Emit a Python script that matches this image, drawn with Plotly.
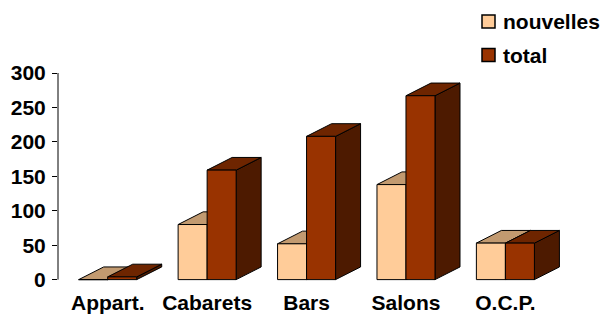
import plotly.graph_objects as go

categories = ["Appart.", "Cabarets", "Bars", "Salons", "O.C.P."]
nouvelles = [0, 80, 52, 138, 53]
total = [4, 159, 208, 267, 53]
y_ticks = [0, 50, 100, 150, 200, 250, 300]

W, H = 615, 314
L, R, T, B = 58, 40, 73, 33
XR = [-0.5, 4.7]
YR = [-2, 300]

BAR_W = 0.2918
DX = 0.2515
DY = 18.4

FONT = dict(family="Liberation Sans, Arial, sans-serif", size=21, color="black", weight="bold")

def faces(values, offset):
    front_x, front_y, top_x, top_y, side_x, side_y = [], [], [], [], [], []
    for i, v in enumerate(values):
        x0 = i + offset
        x1 = x0 + BAR_W
        front_x += [x0, x1, x1, x0, x0, None]
        front_y += [0, 0, v, v, 0, None]
        top_x += [x0, x1, x1 + DX, x0 + DX, x0, None]
        top_y += [v, v, v + DY, v + DY, v, None]
        side_x += [x1, x1 + DX, x1 + DX, x1, x1, None]
        side_y += [0, DY, v + DY, v, 0, None]
    return (front_x, front_y), (top_x, top_y), (side_x, side_y)

fig = go.Figure()

series = [
    (nouvelles, -BAR_W, "#FFCC99", "#C29A70", "#8A6A48"),
    (total, 0.0, "#993300", "#6E2500", "#4D1A00"),
]
for vals, off, c_front, c_top, c_side in series:
    (fx, fy), (tx, ty), (sx, sy) = faces(vals, off)
    for xs, ys, col in [(sx, sy, c_side), (tx, ty, c_top), (fx, fy, c_front)]:
        fig.add_trace(go.Scatter(
            x=xs, y=ys, mode="lines", fill="toself", fillcolor=col,
            line=dict(color="black", width=1), showlegend=False,
            hoverinfo="skip", connectgaps=False))

def px_to_paper(px, py):
    return (px - L) / (W - L - R), (H - B - py) / (H - B - T)

shapes = [dict(type="line", xref="paper", yref="y", x0=0, x1=0, y0=0, y1=300,
               line=dict(color="black", width=1))]
annotations = []
legend_items = [("nouvelles", "#FFCC99", 21.5), ("total", "#993300", 55)]
for name, col, cy in legend_items:
    xa, ya = px_to_paper(482, cy - 6.5)
    xb, yb = px_to_paper(495, cy + 6.5)
    shapes.append(dict(type="rect", xref="paper", yref="paper", x0=xa, x1=xb, y0=yb, y1=ya,
                       fillcolor=col, line=dict(color="black", width=1.5)))
    tx, ty = px_to_paper(501, cy)
    annotations.append(dict(text=name, xref="paper", yref="paper", x=tx, y=ty,
                            xanchor="left", yanchor="middle", showarrow=False, font=FONT))

fig.update_layout(
    width=W, height=H, margin=dict(l=L, r=R, t=T, b=B, autoexpand=False),
    paper_bgcolor="white", plot_bgcolor="white",
    shapes=shapes, annotations=annotations, showlegend=False,
    xaxis=dict(range=XR, tickmode="array", tickvals=list(range(len(categories))),
               ticktext=categories, showgrid=False, zeroline=False, showline=False,
               ticks="", tickfont=FONT, ticklabelstandoff=7, automargin=False),
    yaxis=dict(range=YR, tickmode="array", tickvals=y_ticks, showgrid=False,
               zeroline=False, showline=False, ticks="outside", ticklen=5,
               tickcolor="black", tickfont=FONT, ticklabelstandoff=2, automargin=False),
)

fig.write_html("out.html", config={"displayModeBar": False},
               post_script="document.body.style.margin='0';")
